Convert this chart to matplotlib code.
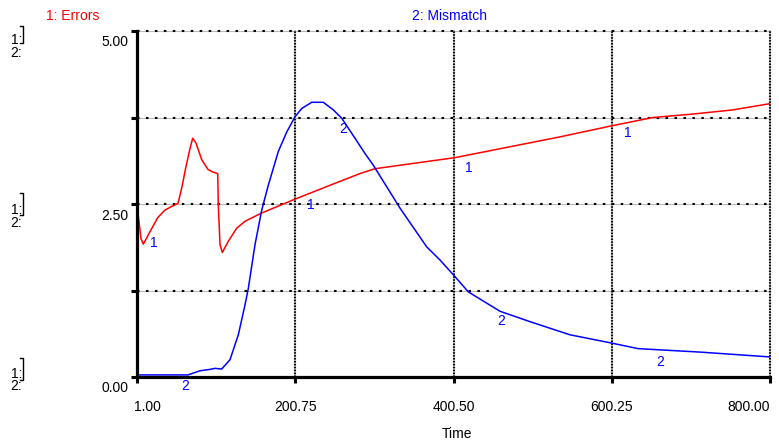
import matplotlib
matplotlib.use("Agg")
import matplotlib.pyplot as plt
import matplotlib.transforms as mtransforms
from matplotlib.lines import Line2D

plt.rcParams['font.family'] = ['Liberation Sans', 'DejaVu Sans']

# ---- data ----
errors_t = [1, 3.5, 6, 9, 17.4, 27, 36, 44, 52.8, 57.8, 62.8, 67.9, 71.3, 75.5, 82.7, 90.6,
            97, 102.9, 103.6, 105.8, 108.7, 116.2, 126.8, 137.3, 158.4, 200.4, 244.5,
            282.5, 301.4, 402.4, 534.9, 600.2, 652.3, 702.8, 753.3, 800]
errors_v = [2.45, 2.25, 2.0, 1.92, 2.10, 2.30, 2.41, 2.46, 2.51, 2.75, 3.04, 3.30, 3.45,
            3.38, 3.14, 3.00, 2.96, 2.94, 2.49, 1.91, 1.80, 1.96, 2.15, 2.25, 2.37, 2.57,
            2.77, 2.94, 3.01, 3.17, 3.47, 3.63, 3.75, 3.80, 3.86, 3.95]

mismatch_t = [1, 65.4, 80.5, 93.1, 99.5, 107.9, 118.4, 128.9, 137.3, 141.5, 149.9, 158.4,
              166.7, 179.4, 190, 200.4, 208.9, 221.5, 236.1, 248.8, 259.4, 276.2, 288.8,
              299.3, 333, 366.7, 383.5, 402.4, 419.2, 459.2, 497, 547.5, 600.2, 633.4,
              711.7, 800]
mismatch_v = [0.03, 0.03, 0.09, 0.11, 0.125, 0.115, 0.25, 0.61, 1.04, 1.28, 1.91, 2.41,
              2.77, 3.26, 3.54, 3.76, 3.88, 3.97, 3.97, 3.86, 3.74, 3.45, 3.23,
              3.06, 2.44, 1.88, 1.69, 1.45, 1.23, 0.95, 0.80, 0.61, 0.49, 0.41,
              0.36, 0.29]

x_ticks = [1, 200.75, 400.5, 600.25, 800]
x_tick_labels = ["1.00", "200.75", "400.50", "600.25", "800.00"]
y_ticks = [0, 1.25, 2.5, 3.75, 5]
y_tick_labels = ["0.00", "", "2.50", "", "5.00"]

series_titles = ["1: Errors", "2: Mismatch"]
errors_marks = [(22.5, 1.94), (220.6, 2.49), (420, 3.02), (620.7, 3.53)]
mismatch_marks = [(61.6, -0.13), (261, 3.58), (460.4, 0.81), (661, 0.22)]

RED = '#ff0000'
BLUE = '#0000ff'
FS = 10

W, H = 779, 443
fig = plt.figure(figsize=(W / 100, H / 100), dpi=100)
L, R, T, B = 137, 770, 31, 377
ax = fig.add_axes([L / W, 1 - B / H, (R - L) / W, (B - T) / H])

def fx(px):
    return px / W

def fy(py):
    return 1 - py / H

ax.set_xlim(1, 800)
ax.set_ylim(0, 5)

# grid lines
for yv in y_ticks[1:]:
    ax.axhline(yv, color='#bbbbbb', lw=0.8, zorder=1, clip_on=False)
    ax.axhline(yv, color='black', lw=1.5, dashes=(1.2, 3.1), zorder=1.1, clip_on=False)
for xv in x_ticks[1:]:
    ax.axvline(xv, color='#bbbbbb', lw=1.5, zorder=1, clip_on=False)
    ax.axvline(xv, color='black', lw=1.5, dashes=(0.7, 0.7), zorder=1.1, clip_on=False)

ax.plot(errors_t, errors_v, color=RED, lw=1.1, zorder=3)
ax.plot(mismatch_t, mismatch_v, color=BLUE, lw=1.1, zorder=3)

for (t, v) in errors_marks:
    ax.text(t, v, "1", color=BLUE, fontsize=FS, ha='center', va='center', zorder=4, clip_on=False)
for (t, v) in mismatch_marks:
    ax.text(t, v, "2", color=BLUE, fontsize=FS, ha='center', va='center', zorder=4, clip_on=False)

for s in ['top', 'right']:
    ax.spines[s].set_visible(False)
for s in ['left', 'bottom']:
    ax.spines[s].set_linewidth(2.3)
    ax.spines[s].set_zorder(5)

ax.set_xticks(x_ticks)
ax.set_xticklabels(x_tick_labels)
ax.set_yticks(y_ticks)
ax.set_yticklabels(y_tick_labels)
ax.tick_params(axis='both', direction='out', length=4.3, width=2.2, labelsize=FS, colors='black')
ax.tick_params(axis='x', pad=12.5)
ax.tick_params(axis='y', pad=2)

xl = ax.get_xticklabels()
xl[0].set_ha('left')
xl[-1].set_ha('right')
off = mtransforms.ScaledTranslation(0, -0.10, fig.dpi_scale_trans)
for lab in ax.get_yticklabels():
    lab.set_transform(lab.get_transform() + off)
xoff = mtransforms.ScaledTranslation(-0.03, 0, fig.dpi_scale_trans)
xl[0].set_transform(xl[0].get_transform() + xoff)

# titles
fig.text(fx(73), fy(16), series_titles[0], color=RED, fontsize=FS, ha='center', va='center')
fig.text(fx(450), fy(16), series_titles[1], color=BLUE, fontsize=FS, ha='center', va='center')
fig.text(fx(457), fy(434), "Time", color='black', fontsize=FS, ha='center', va='center')

# scale markers at left
for (c1, c2, btop, bbot) in [(40, 51, 26, 43), (210, 221, 193, 215), (373, 385, 358, 380)]:
    fig.text(fx(22), fy((c1 + c2) / 2 + 1), "1:\n2:", fontsize=FS, ha='right', va='center',
             multialignment='right', linespacing=0.82)
    fig.add_artist(Line2D([fx(20), fx(22.5), fx(22.5), fx(20)],
                          [fy(btop), fy(btop), fy(bbot), fy(bbot)],
                          transform=fig.transFigure, color='black', lw=1.0))

fig.savefig("out.png", dpi=100)
